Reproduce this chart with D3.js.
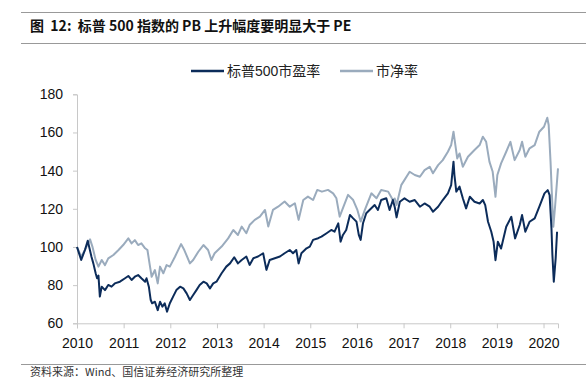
<!DOCTYPE html>
<html>
<head>
<meta charset="utf-8">
<script src="https://cdn.jsdelivr.net/npm/d3@7/dist/d3.min.js"></script>
<style>
body{margin:0;background:#fff;}
text{font-family:"Liberation Sans","Noto Sans CJK SC",sans-serif;}
</style>
</head>
<body>
<svg id="chart" width="586" height="378"></svg>
<script>
const title = "图  12:  标普 500 指数的 PB 上升幅度要明显大于 PE";
const source = "资料来源：Wind、国信证券经济研究所整理";
const seriesNames = ["标普500市盈率", "市净率"];
const yTicks = [60, 80, 100, 120, 140, 160, 180];
const xTicks = [2010, 2011, 2012, 2013, 2014, 2015, 2016, 2017, 2018, 2019, 2020];

const peT = [2010.00,2010.09,2010.17,2010.23,2010.31,2010.35,2010.40,2010.43,2010.46,2010.49,2010.53,2010.60,2010.67,2010.74,2010.81,2010.92,
2011.03,2011.10,2011.17,2011.24,2011.31,2011.38,2011.46,2011.49,2011.54,2011.58,2011.61,2011.67,2011.73,2011.78,2011.83,2011.88,2011.93,2011.99,
2012.06,2012.13,2012.21,2012.28,2012.35,2012.42,2012.49,2012.56,2012.63,2012.71,2012.78,2012.85,2012.92,2012.99,
2013.10,2013.20,2013.28,2013.37,2013.45,2013.53,2013.63,2013.70,2013.78,2013.88,2013.99,
2014.06,2014.13,2014.24,2014.35,2014.45,2014.56,2014.63,2014.70,2014.75,2014.81,2014.92,2014.99,
2015.06,2015.17,2015.24,2015.35,2015.45,2015.52,2015.60,2015.65,2015.70,2015.77,2015.85,2015.92,2015.99,
2016.04,2016.08,2016.13,2016.20,2016.27,2016.38,2016.45,2016.52,2016.63,2016.70,2016.77,2016.81,2016.85,2016.92,
2017.02,2017.13,2017.24,2017.35,2017.45,2017.56,2017.63,2017.74,2017.84,2017.95,
2018.02,2018.07,2018.09,2018.13,2018.20,2018.27,2018.34,2018.42,2018.52,2018.63,2018.70,2018.75,2018.81,2018.88,2018.93,2018.97,
2019.02,2019.09,2019.20,2019.31,2019.39,2019.49,2019.54,2019.61,2019.70,2019.81,2019.91,
2020.02,2020.09,2020.13,2020.17,2020.19,2020.22,2020.26,2020.29];
const peV = [100,93.2,98.4,103.3,94.9,91.4,86.2,83.6,85,74.0,79.2,77.4,80.1,79.2,80.9,81.8,
83.6,84.8,82.7,84.4,85.3,83.6,81.8,83.6,79.2,72.2,70.5,71.3,66.9,71.3,68.7,70.5,66.1,70.5,
74.0,77.4,79.2,78.3,75.7,72.2,74.8,77.4,80.1,81.8,80.9,78.3,80.9,81.8,
86.2,89.7,91.4,94.6,91.4,93.2,95.0,90.6,94.1,95.0,96.7,
88.0,93.2,94.1,95.0,96.7,98.4,96.7,98.4,91.4,96.7,99.3,100.2,
103.7,104.6,105.4,107.2,108.9,108.0,112.4,102.8,106.3,108.9,116.8,115.0,113.3,
106.3,103.7,112.4,117.7,119.4,122.0,119.4,124.6,125.5,119.4,124.6,121,115.5,123.7,
125.5,123.7,124.6,121.1,122.8,121.1,118.5,121.1,124.6,128.1,
132.4,144.7,137.7,129.0,131.6,125.5,120.2,126.3,123.7,122.8,124.6,121.9,113.2,108.0,102.7,93.1,
102.7,99.2,110.6,115.8,104.5,111.5,116.7,108.0,113.2,115.0,121.1,
128.1,129.8,127.2,109.7,95.8,81.8,94.0,108.0];

const pbT = [2010.00,2010.09,2010.17,2010.28,2010.33,2010.40,2010.46,2010.53,2010.60,2010.67,2010.78,2010.89,2010.99,
2011.10,2011.17,2011.24,2011.31,2011.38,2011.46,2011.51,2011.56,2011.60,2011.67,2011.73,2011.78,2011.85,2011.92,2011.99,
2012.10,2012.23,2012.30,2012.42,2012.49,2012.60,2012.71,2012.81,2012.88,2012.95,
2013.10,2013.24,2013.35,2013.45,2013.53,2013.63,2013.70,2013.81,2013.92,
2014.03,2014.10,2014.20,2014.31,2014.45,2014.56,2014.67,2014.75,2014.85,2014.95,
2015.06,2015.15,2015.25,2015.38,2015.49,2015.56,2015.63,2015.70,2015.81,2015.92,
2016.01,2016.08,2016.17,2016.31,2016.42,2016.52,2016.67,2016.77,2016.81,2016.85,2016.95,
2017.13,2017.24,2017.35,2017.45,2017.56,2017.63,2017.74,2017.84,2017.95,
2018.02,2018.07,2018.11,2018.15,2018.20,2018.27,2018.38,2018.52,2018.63,2018.70,2018.77,2018.84,2018.91,2018.97,
2019.01,2019.09,2019.20,2019.29,2019.38,2019.49,2019.54,2019.61,2019.70,2019.81,2019.91,
2020.01,2020.08,2020.11,2020.15,2020.18,2020.21,2020.25,2020.31];
const pbV = [100,94.9,98.4,104,100.2,93.2,89.7,93.2,90.5,94.0,95.8,98.4,101,
104.5,101.9,103.6,101,101.9,99.3,98.4,90.5,84.4,87.9,80.9,89.7,86.2,90.5,89.7,
94.9,101.5,98.4,91.4,93.2,97.5,101,98.4,93.2,96.7,
100.2,104.5,108.9,106.3,110.7,107.2,111.5,114.2,115.9,
119.4,110.7,119.4,121.1,123.8,121.1,122.9,114.2,124.6,126.4,
124.6,129.9,129.0,129.9,128.1,125.5,115.9,120.3,127.3,124.6,
119.4,113.3,119.4,128.1,125.5,129.9,129.0,124.6,125.4,122,132.4,
139.4,137.7,136.8,140.3,142.0,138.6,142.9,145.5,149.9,
153.4,160.4,153.4,146.4,149.0,142.0,147.3,150.8,153.4,157.8,155.1,144.7,139.4,126.3,
137.7,143.8,149.9,155.1,145.5,150.8,155.1,147.3,151.7,153.4,160.4,
163.0,167.7,163.9,144.7,127.2,110.6,122.0,141.2];

const colors = ["#0c2c5a", "#9aabbd"];

const svg = d3.select("#chart");
const x = d3.scaleLinear().domain([2010, 2020.31]).range([77, 558]);
const y = d3.scaleLinear().domain([60, 180]).range([323.3, 94.3]);

// header rules and title
svg.append("line").attr("x1",21).attr("x2",586).attr("y1",12.5).attr("y2",12.5).attr("stroke","#999").attr("stroke-width",1);
svg.append("line").attr("x1",21).attr("x2",586).attr("y1",43.5).attr("y2",43.5).attr("stroke","#999").attr("stroke-width",1);
svg.append("text").attr("x",30).attr("y",31).attr("font-size",14).attr("font-weight","bold").attr("fill","#111")
  .style("white-space","pre")
  .style("font-family","'Noto Sans CJK SC','Liberation Sans',sans-serif").text(title);

// legend
const legX = [191, 340];
seriesNames.forEach((n,i)=>{
  svg.append("line").attr("x1",legX[i]).attr("x2",legX[i]+33).attr("y1",71).attr("y2",71)
    .attr("stroke",colors[i]).attr("stroke-width",2.5);
  svg.append("text").attr("x",legX[i]+36).attr("y",76).attr("font-size",14).attr("fill","#222")
    .text(n);
});

// axes
const yAxis = d3.axisLeft(y).tickValues(yTicks).tickSize(4).tickPadding(10);
const gy = svg.append("g").attr("transform","translate(77,0)").call(yAxis);
const xAxis = d3.axisBottom(x).tickValues(xTicks).tickSize(5).tickPadding(10).tickFormat(d3.format("d"));
const gx = svg.append("g").attr("transform","translate(0,323.3)").call(xAxis);
[gx, gy].forEach(g=>{
  g.select(".domain").attr("stroke","#c8c8c8");
  g.selectAll(".tick line").attr("stroke","#c8c8c8");
  g.selectAll(".tick text").attr("font-size",14).attr("fill","#111")
    .style("font-family","'Liberation Sans',sans-serif");
});

// lines
const line = d3.line().x(d=>x(d[0])).y(d=>y(d[1]));
const pb = pbT.map((t,i)=>[t,pbV[i]]);
const pe = peT.map((t,i)=>[t,peV[i]]);
svg.append("path").datum(pb).attr("d",line).attr("fill","none").attr("stroke",colors[1]).attr("stroke-width",2).attr("stroke-linejoin","round");
svg.append("path").datum(pe).attr("d",line).attr("fill","none").attr("stroke",colors[0]).attr("stroke-width",2).attr("stroke-linejoin","round");

// footer
svg.append("line").attr("x1",21).attr("x2",586).attr("y1",364.5).attr("y2",364.5).attr("stroke","#999").attr("stroke-width",1);
svg.append("text").attr("x",30).attr("y",376).attr("font-size",11).attr("fill","#333")
  .style("font-family","'Noto Sans CJK SC','Liberation Sans',sans-serif").text(source);
</script>
</body>
</html>
